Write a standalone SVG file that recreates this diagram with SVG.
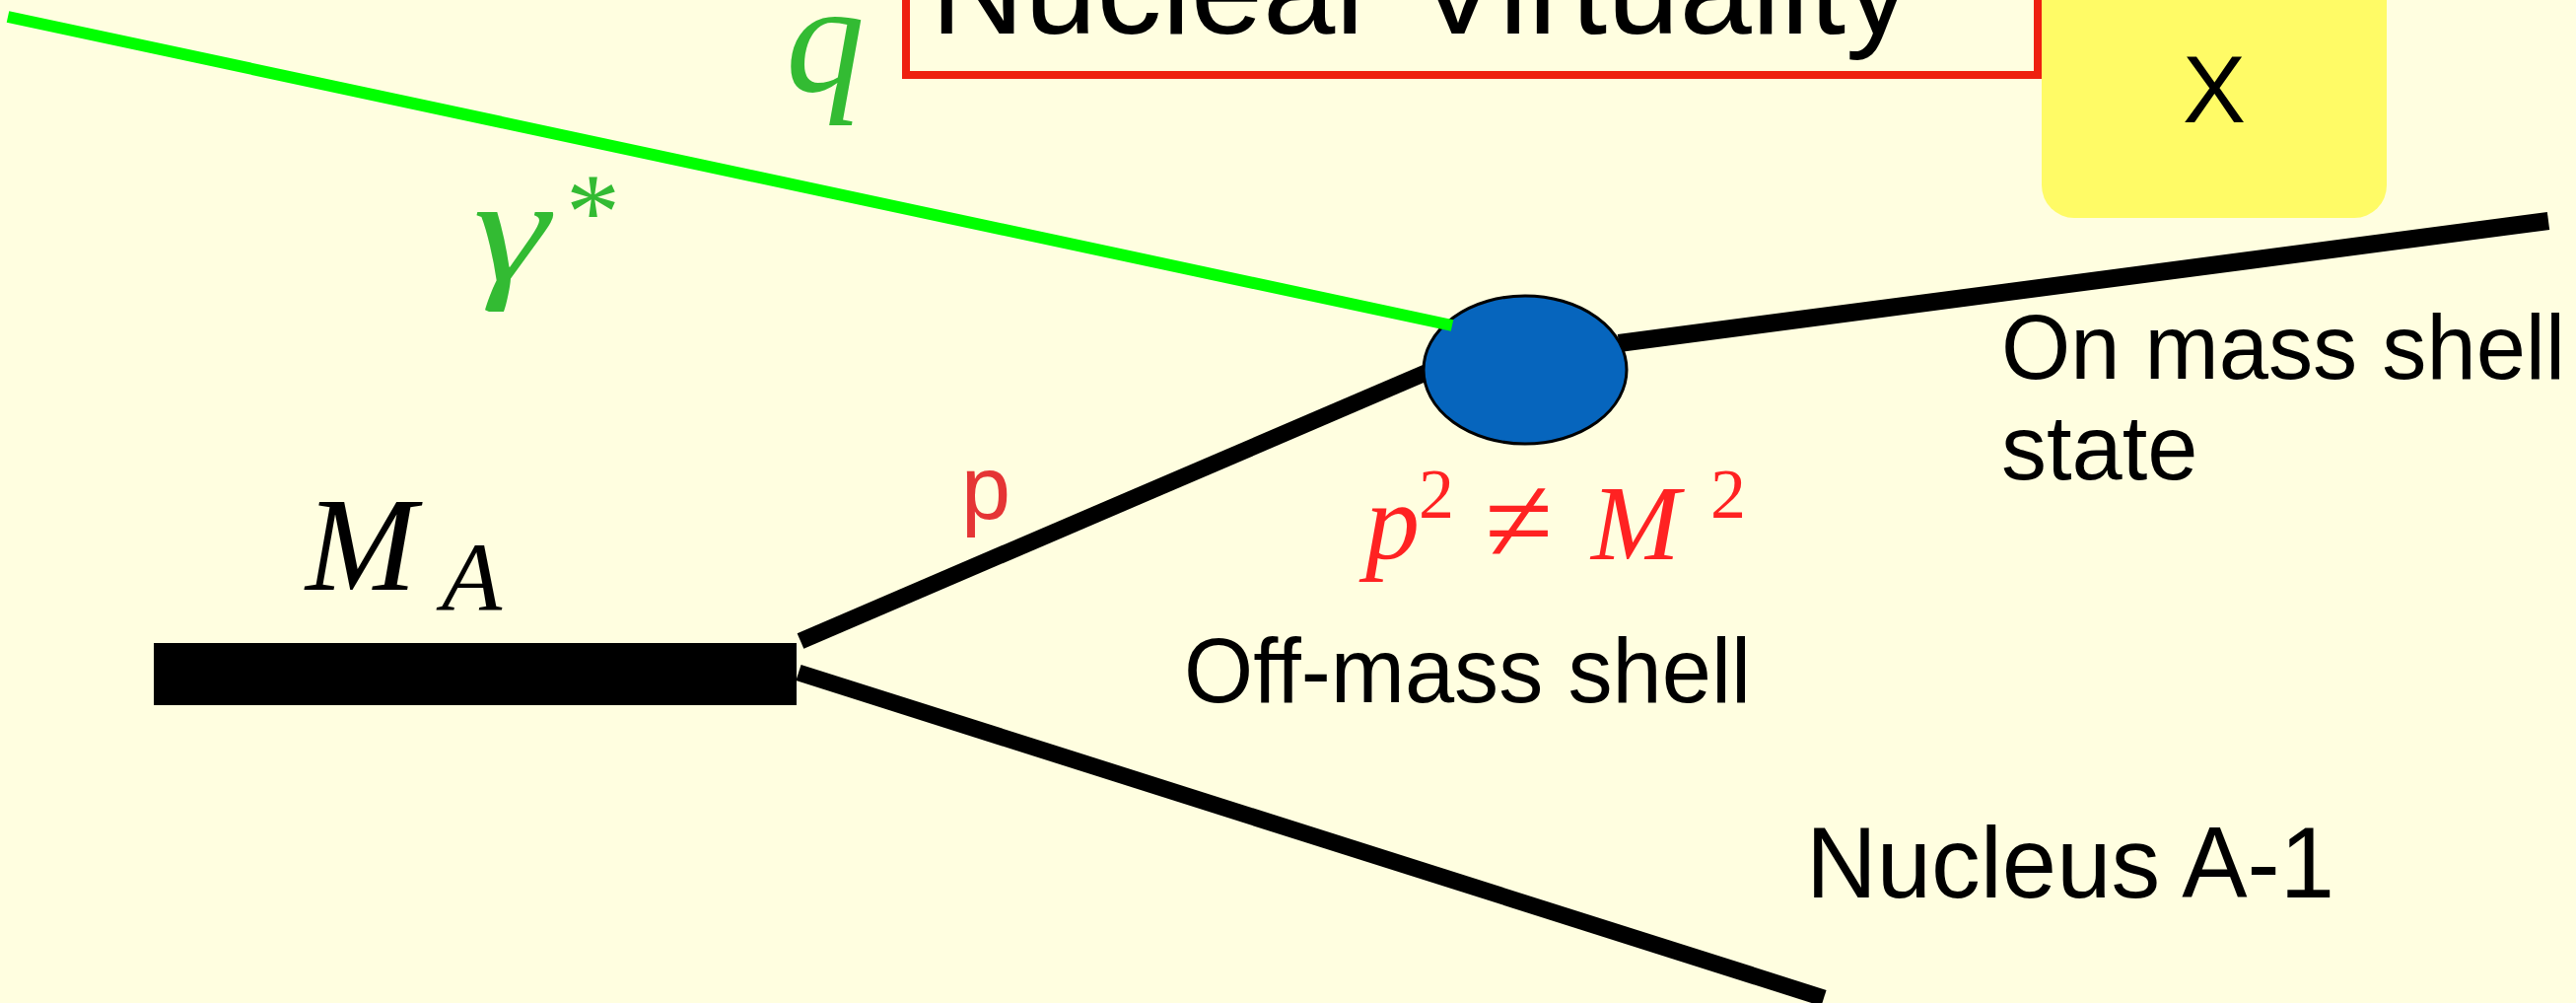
<svg xmlns="http://www.w3.org/2000/svg" width="2613" height="1017" viewBox="0 0 2613 1017">
  <style>
    .sans { font-family: "Liberation Sans", Arial, sans-serif; }
    .k { fill: #000; }
    .math { font-family: "Liberation Serif", "Times New Roman", serif; font-style: italic; }
    .mrm { font-family: "Liberation Serif", "Times New Roman", serif; font-style: normal; }
    .grn { fill: #33BB33; }
    .red { fill: #FF2222; }
    .blk { stroke: #000; fill: none; stroke-linecap: butt; }
  </style>
  <rect x="0" y="0" width="2613" height="1017" fill="#FFFEE0"/>

  <g id="title-box">
    <rect x="919" y="-60" width="1148" height="136" fill="none" stroke="#EE2010" stroke-width="8"/>
    <text class="sans k" x="944" y="34" font-size="130" textLength="994" lengthAdjust="spacingAndGlyphs">Nuclear Virtuality</text>
  </g>

  <g id="x-box">
    <rect x="2071" y="-60" width="350" height="281" rx="33" ry="33" fill="#FFFB66"/>
    <text class="sans k" x="2246" y="124" font-size="96" text-anchor="middle">X</text>
  </g>

  <g id="connectors">
    <line class="blk" x1="812" y1="650" x2="1460" y2="372" stroke-width="17"/>
    <line class="blk" x1="810" y1="682" x2="1850" y2="1012" stroke-width="17"/>
    <line class="blk" x1="1642" y1="348" x2="2585" y2="224" stroke-width="18"/>
  </g>

  <g id="nucleus">
    <rect x="156" y="652" width="652" height="63" fill="#000"/>
    <text class="math k" x="310" y="598" font-size="135">M</text>
    <text class="math k" x="448" y="619" font-size="100">A</text>
  </g>

  <g id="vertex">
    <ellipse cx="1547" cy="375" rx="103" ry="75" fill="#0665BD" stroke="#000" stroke-width="3"/>
  </g>

  <g id="photon">
    <line x1="8" y1="17" x2="1473" y2="330" stroke="#00FF00" stroke-width="12" stroke-linecap="butt"/>
    <text class="math grn" x="797" y="93" font-size="160">q</text>
    <text class="math grn" transform="translate(480,284) scale(1.3,1)" x="0" y="0" font-size="150">γ</text>
    <text class="mrm grn" x="574" y="252" font-size="110">*</text>
  </g>

  <g id="labels">
    <text class="sans" x="975" y="526" font-size="90" fill="#E53535">p</text>
    <text class="math red" x="1385" y="567" font-size="110">p</text>
    <text class="mrm red" x="1439" y="525" font-size="72">2</text>
    <text class="mrm red" x="1506" y="570" font-size="126">≠</text>
    <text class="math red" x="1614" y="567" font-size="108">M</text>
    <text class="mrm red" x="1735" y="525" font-size="72">2</text>
    <text class="sans k" x="1201" y="712" font-size="92" textLength="575" lengthAdjust="spacingAndGlyphs">Off-mass shell</text>
    <text class="sans k" x="2030" y="384" font-size="92" textLength="572" lengthAdjust="spacingAndGlyphs">On mass shell</text>
    <text class="sans k" x="2030" y="486" font-size="92">state</text>
    <text class="sans k" x="1832" y="910" font-size="102" textLength="536" lengthAdjust="spacingAndGlyphs">Nucleus A-1</text>
  </g>
</svg>
